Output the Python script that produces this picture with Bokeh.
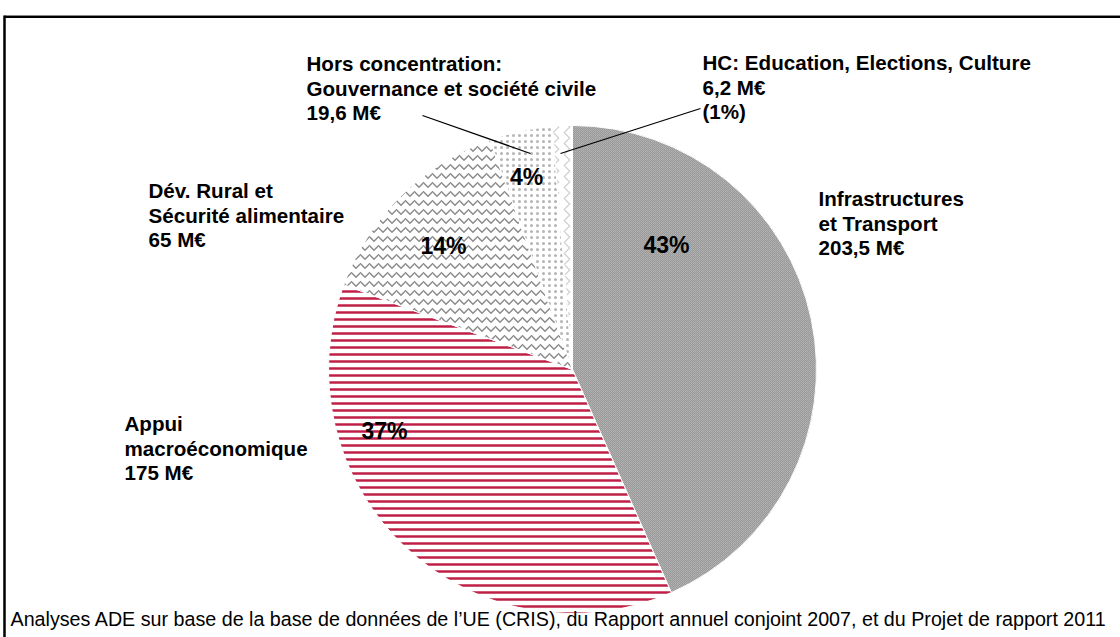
import math
from bokeh.plotting import figure
from bokeh.models import Range1d
from bokeh.core.properties import value
from bokeh.embed import file_html
from bokeh.resources import INLINE

# ---- data ----
categories = ["Infrastructures et Transport", "Appui macroéconomique",
              "Dév. Rural et Sécurité alimentaire",
              "Hors concentration: Gouvernance et société civile",
              "HC: Education, Elections, Culture"]
amounts = [203.5, 175.0, 65.0, 19.6, 6.2]   # M€
label_lines = [
    ["Infrastructures", "et Transport", "203,5 M€"],
    ["Appui", "macroéconomique", "175 M€"],
    ["Dév. Rural et", "Sécurité alimentaire", "65 M€"],
    ["Hors concentration:", "Gouvernance et société civile", "19,6 M€"],
    ["HC: Education, Elections, Culture", "6,2 M€", "(1%)"],
]
source_note = "Analyses ADE sur base de la base de données de  l\u2019UE (CRIS), du Rapport annuel conjoint 2007, et du Projet de rapport 2011"

# ---- layout / style ----
W, H = 1120, 637
CX, CY, R = 572, 369, 244          # screen px
fills = ["#7e7e7e", "#ffffff", "#ffffff", "#ffffff", "#ffffff"]
hatches = ["criss_cross", "horizontal_line", "horizontal_wave", "dot", "vertical_wave"]
hatch_colors = ["#b4b4b4", "#bf1f47", "#8a8a8a", "#b4b4b4", "#cfcfcf"]
hatch_scales = [2, 7, 9, 6, 11]
hatch_weights = [1, 2.5, 1.5, 1.6, 1.2]
pct_pos = [(666, 244), (384, 430), (443, 245), (526, 176), None]   # screen centres
lab_pos = [(818, 198), (124, 423), (148, 190), (306, 63), (702, 62)]  # left x, first baseline
LINE_H = 24.7

def sy(y):
    return H - y

total = sum(amounts)
cum = 0.0
starts, ends = [], []
for a in amounts:
    starts.append(math.pi / 2 - 2 * math.pi * cum / total)
    cum += a
    ends.append(math.pi / 2 - 2 * math.pi * cum / total)
pcts = [f"{round(a / total * 100)}%" for a in amounts]

p = figure(width=W, height=H, output_backend="svg", toolbar_location=None,
           x_range=Range1d(0, W), y_range=Range1d(0, H), min_border=0)
p.axis.visible = False
p.grid.visible = False
p.outline_line_color = None
p.background_fill_color = "white"

for i in range(len(amounts)):
    p.wedge(x=CX, y=sy(CY), radius=R, start_angle=starts[i], end_angle=ends[i],
            direction="clock", fill_color=fills[i], line_color="white", line_width=1,
            hatch_pattern=hatches[i], hatch_color=hatch_colors[i],
            hatch_scale=hatch_scales[i], hatch_weight=hatch_weights[i])

# percentage labels
px, py, pt = [], [], []
for i, pos in enumerate(pct_pos):
    if pos is None:
        continue
    px.append(pos[0]); py.append(sy(pos[1])); pt.append(pcts[i])
p.text(x=px, y=py, text=pt, text_font=value("Liberation Sans"), text_font_style="bold",
       text_font_size="23px", text_align="center", text_baseline="middle", text_color="black")

# category labels
lx, ly, lt = [], [], []
for i, lines in enumerate(label_lines):
    x0, y0 = lab_pos[i]
    for k, t in enumerate(lines):
        lx.append(x0); ly.append(sy(y0 + k * LINE_H)); lt.append(t)
p.text(x=lx, y=ly, text=lt, text_font=value("Liberation Sans"), text_font_style="bold",
       text_font_size="20.6px", text_align="left", text_baseline="alphabetic", text_color="black")

# leader lines
p.line(x=[422, 530], y=[sy(115), sy(153)], line_color="black", line_width=1.3)
p.line(x=[560, 700], y=[sy(153), sy(108)], line_color="black", line_width=1.3)

# source note
p.text(x=[10], y=[sy(618)], text=[source_note], text_font=value("Liberation Sans"),
       text_font_size="19.7px", text_align="left", text_baseline="middle", text_color="black")

# frame
p.line(x=[4, W], y=[sy(15), sy(15)], line_color="#888888", line_width=1)
p.line(x=[4, W], y=[sy(16.5), sy(16.5)], line_color="black", line_width=2)
p.line(x=[4, 4], y=[sy(15), sy(H)], line_color="black", line_width=2.5)

open("out.html", "w").write(file_html(p, INLINE))
